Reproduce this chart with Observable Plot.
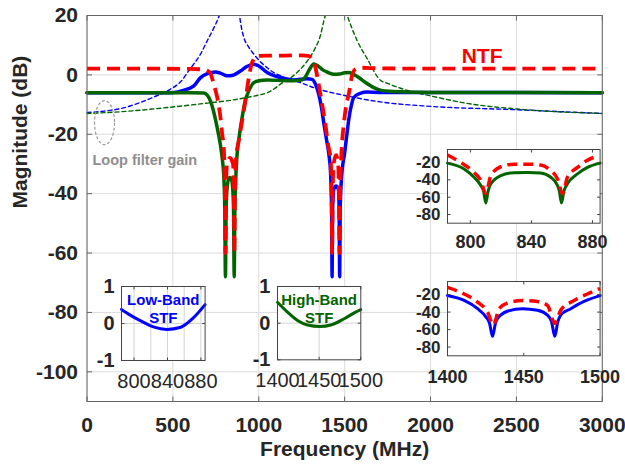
<!DOCTYPE html>
<html><head><meta charset="utf-8">
<script src="https://cdn.jsdelivr.net/npm/d3@7"></script>
<script src="https://cdn.jsdelivr.net/npm/@observablehq/plot@0.6"></script>
<style>
body{margin:0;background:#fff;}
#chart{position:relative;width:625px;height:468px;overflow:hidden;}
</style></head><body><div id="chart"></div>
<script>
// ---------- main chart data ----------
const xTicks = [0, 500, 1000, 1500, 2000, 2500, 3000];
const yTicks = [-100, -80, -60, -40, -20, 0, 20];

const ntfF  = [0, 300, 600, 680, 715, 738, 758, 777, 787, 796, 803, 806, 809, 815, 832, 850, 855, 858, 861, 868, 884, 903, 922, 942, 961, 990, 1050, 1150, 1250, 1291, 1310, 1330, 1345, 1359, 1375, 1388, 1405, 1418, 1424, 1427, 1430, 1436, 1450, 1462, 1467, 1470, 1473, 1480, 1495, 1510, 1524, 1540, 1553, 1575, 1600, 1700, 2000, 3000];
const ntfDb = [2.1, 2.1, 2.0, 1.8, 0.8, -3.1, -7.6, -14.4, -20, -24.5, -40, -60, -40, -30, -28, -30, -40, -60, -40, -28, -22, -15.5, -8.8, -1, 4.1, 6.4, 6.5, 6.5, 6.6, 6.4, 5, 2.5, -2, -6.5, -12, -16.6, -24, -28, -40, -60, -40, -30, -27, -30, -40, -60, -40, -28, -16.6, -10, -6.5, -1, 1.3, 2.2, 2.4, 2.2, 2.1, 2.1];

const lowStfF  = [0, 450, 505, 560, 622, 660, 700, 748, 780, 816, 850, 893, 930, 971, 1000, 1049, 1126, 1204, 1282, 1310, 1330, 1349, 1365, 1378, 1395, 1408, 1418, 1424, 1427, 1430, 1437, 1450, 1463, 1468, 1471, 1474, 1484, 1499, 1511, 1524, 1540, 1553, 1590, 1631, 1700, 3000];
const lowStfDb = [-6, -6, -5.9, -5.2, -3.7, -1, 0.4, 1.0, 0.5, -0.3, -0.1, 1.3, 2.8, 3.6, 3.0, 0.8, -0.9, -1.7, -1.3, -1.5, -3.1, -6.5, -11, -16, -22, -26.7, -33, -45, -68, -45, -38.5, -37.4, -38.5, -45, -68, -45, -33, -26.7, -21, -15, -10, -7.6, -6.2, -5.8, -5.9, -6];

const highStfF  = [0, 600, 680, 700, 719, 740, 758, 775, 787, 797, 802, 806, 810, 816, 825, 832, 840, 848, 853, 857, 861, 866, 874, 888, 903, 920, 942, 971, 1000, 1049, 1165, 1243, 1270, 1295, 1320, 1345, 1375, 1405, 1437, 1470, 1500, 1524, 1550, 1582, 1620, 1670, 1720, 1825, 2000, 3000];
const highStfDb = [-6, -6, -6.1, -6.8, -8.8, -13, -17.8, -23, -28, -35, -45, -68, -45, -38, -35, -34.6, -35, -38, -45, -68, -45, -35, -26.7, -20, -14.4, -9, -5.4, -2.6, -2, -1.7, -2, -1.8, -0.8, 1.8, 3.7, 3.0, 1.6, 0.8, 0.2, 0.3, 0.7, 0.8, 0.2, -0.9, -2.5, -4.3, -5.3, -5.7, -5.9, -6];

const lowLoopF  = [0, 100, 200, 300, 400, 467, 550, 600, 661, 700, 740, 770, 790, 835, 880, 893, 913, 940, 971, 1000, 1049, 1087, 1126, 1243, 1320, 1514, 1708, 2000, 2484, 3000];
const lowLoopDb = [-12.7, -12.2, -11.3, -9.5, -7.2, -5.4, -2, 2, 7, 11.5, 16, 20, 24, 40, 24, 18, 12.6, 9.5, 7, 5, 2.4, 0.8, -0.3, -2.6, -4.3, -7.1, -9.1, -10.6, -11.7, -13];

const highLoopF  = [0, 200, 467, 700, 855, 933, 1000, 1049, 1100, 1126, 1180, 1223, 1280, 1320, 1360, 1380, 1395, 1450, 1508, 1534, 1573, 1631, 1708, 1747, 1825, 2019, 2213, 2504, 3000];
const highLoopDb = [-13, -12.4, -11, -9.5, -8.4, -7.6, -6.8, -6, -4.3, -3.1, -1.2, 0.8, 4.5, 8.1, 13.5, 18.5, 21.5, 40, 21.5, 17, 11.5, 5.5, -1.8, -2.8, -4.5, -7.3, -9.6, -11.5, -13];

// ---------- inset data ----------
const insetLowTicks = [800, 840, 880];
const insetLowGrid = [800, 820, 840, 860, 880];
const insetHighTicks = [1400, 1450, 1500];
const insetHighGrid = [1450];
const stfTicks = [-1, 0, 1];
const notchTicks = [-80, -60, -40, -20];

const insLowStfF = [785, 796, 808, 824, 839, 856, 870, 885];
const insLowStfV = [0.38, 0.22, 0.07, -0.1, -0.16, -0.1, 0.13, 0.51];

const insHighStfF = [1400, 1412, 1424, 1436, 1451, 1464, 1480, 1492, 1500];
const insHighStfV = [0.57, 0.30, 0.07, -0.05, -0.09, -0.05, 0.12, 0.28, 0.37];

const insCNtfF  = [785, 793.7, 802.4, 806.8, 810.1, 813.4, 819.9, 828.6, 837.4, 846.1, 852.7, 857.1, 860.4, 863.6, 870.2, 876.7, 884.3];
const insCNtfV  = [-11.3, -20, -31.4, -40.8, -55.9, -35.1, -24.9, -21.9, -21.9, -23, -29.4, -38.9, -55.9, -37, -25.7, -17.3, -12.4];
const insCHighF = [785, 795.9, 802.4, 806.8, 808.6, 810.1, 811.6, 813.4, 819.9, 828.6, 837.4, 846.1, 852.7, 857.1, 858.3, 859.7, 861.3, 863.6, 870.2, 876.7, 885];
const insCHighV = [-20.7, -27.5, -37, -46.5, -53, -66.6, -53, -44.6, -35.1, -31.7, -31.4, -32, -37, -46.5, -53, -66.6, -53, -44.6, -33.2, -25.7, -20.7];

const insDNtfF = [1400, 1410.9, 1419.7, 1426.2, 1430.1, 1433.8, 1439.3, 1449.1, 1459, 1465.5, 1470.3, 1474.2, 1483, 1491.7, 1500];
const insDNtfV = [-11.8, -19.3, -28.6, -39.8, -54.7, -36.1, -29.7, -26.7, -27.8, -32.3, -52.8, -37.9, -26.7, -19.3, -13];
const insDLowF = [1400, 1410.9, 1419.7, 1425.1, 1427.6, 1429.5, 1431.4, 1432.8, 1439.3, 1449.1, 1459, 1465.5, 1468.2, 1470.3, 1472.3, 1474.2, 1480.8, 1489.5, 1500];
const insDLowV = [-21.1, -26.7, -36.1, -45.4, -53, -67.7, -53, -47.3, -39, -36.1, -37.9, -43.5, -51, -67.7, -51, -43.5, -36.1, -27.8, -21.1];

// ---------- styling ----------
const FONT = '"Liberation Sans", Arial, Helvetica, sans-serif';
const INK = "#262626";
const BLUE = "#0000ff", GREEN = "#006400", RED = "#ff0000", GRAY = "#8e8e8e";
const fmt = d => String(d);

const rows = (fs, vs) => fs.map((f, i) => ({f, v: vs[i]}));
const tickSym = (dx, dy) => ({draw(ctx) { ctx.moveTo(0, 0); ctx.lineTo(dx, dy); }});
function boxTicks(xt, yt, len, color) {
  const o = {stroke: color, fill: "none", strokeWidth: 1};
  return [
    Plot.dot(xt, {...o, x: d => d, frameAnchor: "bottom", symbol: tickSym(0, -len)}),
    Plot.dot(xt, {...o, x: d => d, frameAnchor: "top", symbol: tickSym(0, len)}),
    Plot.dot(yt, {...o, y: d => d, frameAnchor: "left", symbol: tickSym(len, 0)}),
    Plot.dot(yt, {...o, y: d => d, frameAnchor: "right", symbol: tickSym(-len, 0)})
  ];
}
const ellipseSym = {draw(ctx) {
  const rx = 10, ry = 22, k = 0.5523;
  ctx.moveTo(rx, 0);
  ctx.bezierCurveTo(rx, ry * k, rx * k, ry, 0, ry);
  ctx.bezierCurveTo(-rx * k, ry, -rx, ry * k, -rx, 0);
  ctx.bezierCurveTo(-rx, -ry * k, -rx * k, -ry, 0, -ry);
  ctx.bezierCurveTo(rx * k, -ry, rx, -ry * k, rx, 0);
  ctx.closePath();
}};

const chart = document.getElementById("chart");

const main = Plot.plot({
  width: 625, height: 468,
  marginLeft: 86.5, marginRight: 23.2, marginTop: 15, marginBottom: 67,
  style: {fontFamily: FONT, background: "white", overflow: "visible"},
  x: {domain: [0, 3000]},
  y: {domain: [-110, 20]},
  marks: [
    Plot.gridX({ticks: xTicks, stroke: "#dcdcdc", strokeOpacity: 1}),
    Plot.gridY({ticks: yTicks, stroke: "#dcdcdc", strokeOpacity: 1}),
    Plot.line(rows(lowLoopF, lowLoopDb), {x: "f", y: "v", stroke: BLUE, strokeWidth: 1.4, strokeDasharray: "4,3", curve: "monotone-x", clip: true}),
    Plot.line(rows(highLoopF, highLoopDb), {x: "f", y: "v", stroke: GREEN, strokeWidth: 1.4, strokeDasharray: "4,3", curve: "monotone-x", clip: true}),
    Plot.line(rows(lowStfF, lowStfDb), {x: "f", y: "v", stroke: BLUE, strokeWidth: 3.5, curve: "monotone-x"}),
    Plot.line(rows(highStfF, highStfDb), {x: "f", y: "v", stroke: GREEN, strokeWidth: 3.5, curve: "monotone-x"}),
    Plot.line(rows(ntfF, ntfDb), {x: "f", y: "v", stroke: RED, strokeWidth: 3.8, strokeDasharray: "13,7", strokeLinecap: "butt", curve: "monotone-x"}),
    Plot.frame({stroke: "#666"}),
    ...boxTicks(xTicks, yTicks, 5, "#666"),
    Plot.axisX({ticks: xTicks, tickFormat: fmt, tickSize: 0, tickPadding: 16, label: null, fontSize: 21, fontWeight: "bold", color: INK}),
    Plot.axisY({ticks: yTicks, tickFormat: fmt, tickSize: 0, tickPadding: 9, label: null, fontSize: 21, fontWeight: "bold", color: INK}),
    Plot.text(["Frequency (MHz)"], {text: d => d, frameAnchor: "bottom", dy: 54, fontSize: 21, fontWeight: "bold", fill: INK}),
    Plot.text(["Magnitude (dB)"], {text: d => d, frameAnchor: "left", rotate: -90, dx: -67, fontSize: 21, fontWeight: "bold", fill: INK}),
    Plot.text(["NTF"], {text: d => d, x: 2300, y: 6.2, fontSize: 21, fontWeight: "bold", fill: RED}),
    Plot.text(["Loop filter gain"], {text: d => d, x: 32, y: -28.7, textAnchor: "start", fontSize: 14.5, fontWeight: "bold", fill: GRAY}),
    Plot.dot([{f: 102, v: -16.1}], {x: "f", y: "v", symbol: ellipseSym, fill: "none", stroke: "#9a9a9a", strokeWidth: 1.2, strokeDasharray: "3,2"})
  ]
});
chart.appendChild(main);

function inset({box, xDomain, yDomain, xLabels, xGrid, yLabels, yGrid, lines, label, xFont, xWeight, yFont, xPad}) {
  const [L, T, W, H] = box;
  const mL = 45, mR = 25, mT = 6, mB = 34;
  const marks = [Plot.frame({fill: "white"})];
  if (xGrid) marks.push(Plot.gridX({ticks: xGrid, stroke: "#d4d4d4", strokeOpacity: 1}));
  if (yGrid) marks.push(Plot.gridY({ticks: yGrid, stroke: "#d4d4d4", strokeOpacity: 1}));
  marks.push(...lines);
  if (label) marks.push(Plot.text([label.text], {text: d => d, frameAnchor: "top", lineAnchor: "top", dy: 5.5, lineHeight: 1.22, fontSize: 15, fontWeight: "bold", fill: label.color}));
  marks.push(Plot.frame({stroke: "#444"}));
  marks.push(...boxTicks(xLabels, yLabels, 3, "#444"));
  marks.push(Plot.axisX({ticks: xLabels, tickFormat: fmt, tickSize: 0, tickPadding: xPad, label: null, fontSize: xFont, fontWeight: xWeight, color: INK}));
  marks.push(Plot.axisY({ticks: yLabels, tickFormat: fmt, tickSize: 0, tickPadding: 7, label: null, fontSize: yFont, fontWeight: "bold", color: INK}));
  const svg = Plot.plot({
    width: W + mL + mR, height: H + mT + mB,
    marginLeft: mL, marginRight: mR, marginTop: mT, marginBottom: mB,
    x: {domain: xDomain}, y: {domain: yDomain},
    style: {position: "absolute", left: (L - mL) + "px", top: (T - mT) + "px", background: "transparent", overflow: "visible", fontFamily: FONT},
    marks
  });
  chart.appendChild(svg);
}

// Low-Band STF inset
inset({
  box: [120.7, 286, 83.6, 74], xDomain: [785, 885], yDomain: [-1, 1],
  xLabels: insetLowTicks, xGrid: insetLowGrid, yLabels: stfTicks, yGrid: [0],
  xFont: 20, xWeight: "normal", yFont: 20, xPad: 13,
  lines: [Plot.line(rows(insLowStfF, insLowStfV), {x: "f", y: "v", stroke: BLUE, strokeWidth: 3, curve: "monotone-x"})],
  label: {text: "Low-Band\nSTF", color: BLUE}
});
// High-Band STF inset
inset({
  box: [276.7, 286, 83.3, 73.3], xDomain: [1400, 1500], yDomain: [-1, 1],
  xLabels: insetHighTicks, xGrid: insetHighGrid, yLabels: stfTicks, yGrid: [0],
  xFont: 20, xWeight: "normal", yFont: 20, xPad: 13,
  lines: [Plot.line(rows(insHighStfF, insHighStfV), {x: "f", y: "v", stroke: GREEN, strokeWidth: 3, curve: "monotone-x"})],
  label: {text: "High-Band\nSTF", color: GREEN}
});
// Notch inset, low band (NTF + high-band STF)
inset({
  box: [446.7, 149, 152.6, 73.7], xDomain: [785, 885], yDomain: [-90, -5],
  xLabels: insetLowTicks, yLabels: notchTicks,
  xFont: 18, xWeight: "bold", yFont: 17, xPad: 12,
  lines: [
    Plot.line(rows(insCHighF, insCHighV), {x: "f", y: "v", stroke: GREEN, strokeWidth: 3, curve: "monotone-x"}),
    Plot.line(rows(insCNtfF, insCNtfV), {x: "f", y: "v", stroke: RED, strokeWidth: 3.5, strokeDasharray: "10,6", strokeLinecap: "butt", curve: "monotone-x"})
  ]
});
// Notch inset, high band (NTF + low-band STF)
inset({
  box: [446.7, 280.7, 152.6, 74.3], xDomain: [1400, 1500], yDomain: [-90, -5],
  xLabels: insetHighTicks, yLabels: notchTicks,
  xFont: 18, xWeight: "bold", yFont: 17, xPad: 14,
  lines: [
    Plot.line(rows(insDLowF, insDLowV), {x: "f", y: "v", stroke: BLUE, strokeWidth: 3, curve: "monotone-x"}),
    Plot.line(rows(insDNtfF, insDNtfV), {x: "f", y: "v", stroke: RED, strokeWidth: 3.5, strokeDasharray: "10,6", strokeLinecap: "butt", curve: "monotone-x"})
  ]
});
</script></body></html>
